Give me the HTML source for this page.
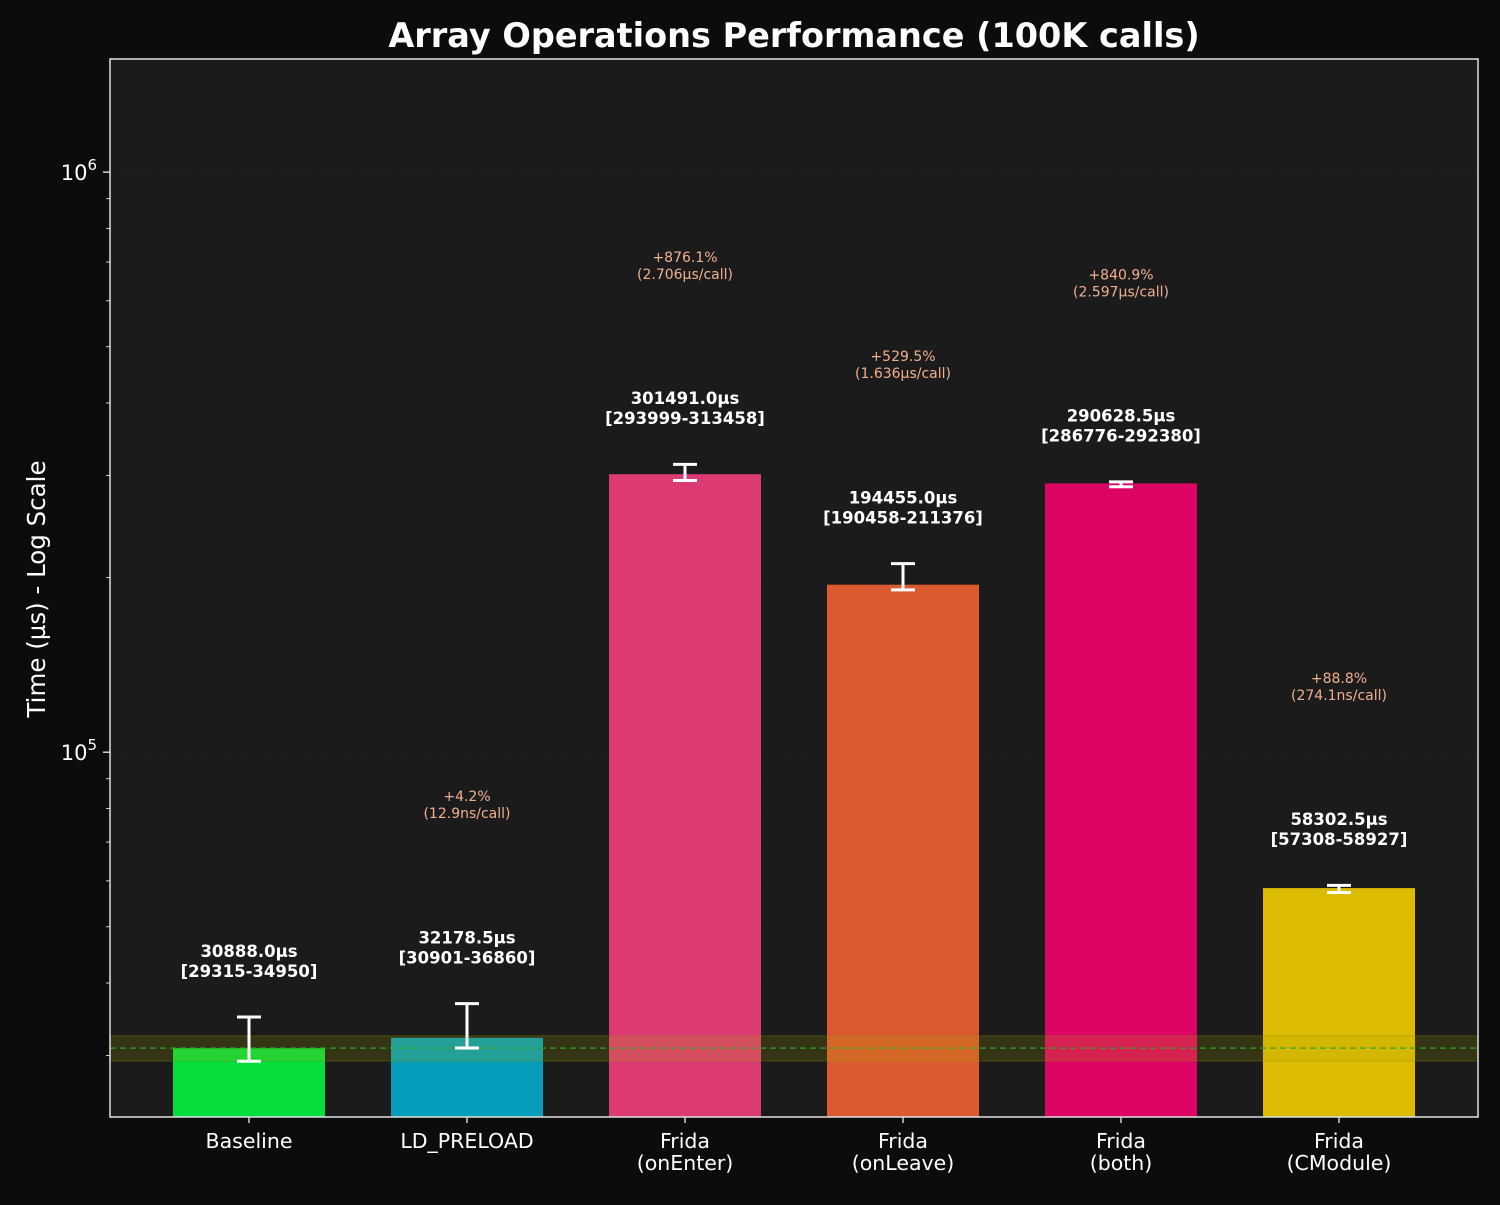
<!DOCTYPE html>
<html><head><meta charset="utf-8"><style>
body{margin:0;background:#0c0c0c;}
svg text{font-family:"DejaVu Sans","Liberation Sans",sans-serif;}
</style></head><body>
<svg id="chart" width="1500" height="1200" xmlns="http://www.w3.org/2000/svg">
<rect width="1500" height="1200" fill="#0c0c0c"/>
<rect x="110" y="59" width="1368" height="1058" fill="#1b1b1b"/>
<text x="794" y="47" text-anchor="middle" font-size="33.5" font-weight="bold" fill="#ffffff">Array Operations Performance (100K calls)</text>
<text transform="translate(45,589) rotate(-90)" text-anchor="middle" font-size="24.5" fill="#ffffff">Time (µs) - Log Scale</text>
<g id="g"></g>
</svg>
<script>
const categories=["Baseline","LD_PRELOAD","Frida\n(onEnter)","Frida\n(onLeave)","Frida\n(both)","Frida\n(CModule)"];
const values=[30888.0,32178.5,301491.0,194455.0,290628.5,58302.5];
const mins=[29315,30901,293999,190458,286776,57308];
const maxs=[34950,36860,313458,211376,292380,58927];
const pctLabels=[null,"+4.2%","+876.1%","+529.5%","+840.9%","+88.8%"];
const perCall=[null,"(12.9ns/call)","(2.706µs/call)","(1.636µs/call)","(2.597µs/call)","(274.1ns/call)"];
const colors=["#05dd3d","#059db9","#dc3a72","#dc5a30","#dd0563","#dcbb03"];
const yTicks=[100000,1000000];
const yTickLabels=["5","6"];

const NS="http://www.w3.org/2000/svg";
const g=document.getElementById('g');
const L=110,R=1478,T=59,B=1117;
const yMin=Math.log10(23500),yMax=Math.log10(1567000);
function y(v){return B-(Math.log10(v)-yMin)/(yMax-yMin)*(B-T);}
const x0=249,step=218;
function x(i){return x0+step*i;}
const bw=152;
function el(tag,attrs,parent){const e=document.createElementNS(NS,tag);for(const k in attrs)e.setAttribute(k,attrs[k]);(parent||g).appendChild(e);return e;}
function txt(s,attrs){const e=el('text',attrs);e.textContent=s;return e;}

for(let d=4;d<=6;d++){for(let m=1;m<10;m++){const v=m*Math.pow(10,d);if(v<23500||v>1567000)continue;
 const yy=y(v);
 const t=el('line',{x1:m==1?L-7:L-4,x2:L,y1:yy,y2:yy,stroke:'#fff','stroke-width':m==1?1.2:0.8});
 
 
 const gl=el('line',{x1:L,x2:R,y1:yy,y2:yy,stroke:'#222','stroke-width':m==1?1:0.5,'stroke-dasharray':'2,3'});
 
 
}}
yTicks.forEach((v,i)=>{const t=el('text',{x:L-13,y:y(v)+8,'text-anchor':'end','font-size':21,fill:'#fff'});
 
 
 t.appendChild(document.createTextNode('10'));
 const s=document.createElementNS(NS,'tspan');s.setAttribute('dy','-10');s.setAttribute('font-size','15');s.textContent=yTickLabels[i];t.appendChild(s);});

const base=values[0];

categories.forEach((c,i)=>{
 const cx=x(i);
 const b=el('rect',{x:cx-bw/2,y:y(values[i]),width:bw,height:B-y(values[i]),fill:colors[i]});
 
 
});

const band=el('rect',{x:L,width:R-L,y:y(base*1.05),height:y(base*0.95)-y(base*1.05),fill:'rgba(170,170,0,0.18)',stroke:'rgba(140,140,0,0.35)'});


const bl=el('line',{x1:L,x2:R,y1:y(base),y2:y(base),stroke:'#2fa82f','stroke-width':1.5,'stroke-dasharray':'6,4',opacity:0.8});



categories.forEach((c,i)=>{
 const cx=x(i);
 const eg=el('g',{stroke:'#fff','stroke-width':3});
 
 
 el('line',{x1:cx,x2:cx,y1:y(maxs[i]),y2:y(mins[i])},eg);
 el('line',{x1:cx-12,x2:cx+12,y1:y(maxs[i]),y2:y(maxs[i])},eg);
 el('line',{x1:cx-12,x2:cx+12,y1:y(mins[i]),y2:y(mins[i])},eg);
 const ly=y(maxs[i]*1.25);
 const v1=txt(values[i].toFixed(1)+'µs',{x:cx,y:ly-4,'text-anchor':'middle','font-size':16.5,'font-weight':'bold',fill:'#fff'});
 
 
 const v2=txt('['+mins[i]+'-'+maxs[i]+']',{x:cx,y:ly+16,'text-anchor':'middle','font-size':16.5,'font-weight':'bold',fill:'#fff'});
 
 
 if(pctLabels[i]){const py=y(maxs[i]*2.2);
  const p1=txt(pctLabels[i],{x:cx,y:py-4,'text-anchor':'middle','font-size':14,fill:'#f0b090'});
  
  
  const p2=txt(perCall[i],{x:cx,y:py+13,'text-anchor':'middle','font-size':14,fill:'#f0b090'});
  
  }
 const tk=el('line',{x1:cx,x2:cx,y1:B,y2:B+6,stroke:'#fff','stroke-width':1.2});
 
 
 c.split('\n').forEach((ln,j)=>{const t=txt(ln,{x:cx,y:B+31+j*22,'text-anchor':'middle','font-size':20.5,fill:'#fff'});
  
  });
});
const fr=el('rect',{x:L,y:T,width:R-L,height:B-T,fill:'none',stroke:'#e0e0e0','stroke-width':1.5});


</script>
</body></html>
